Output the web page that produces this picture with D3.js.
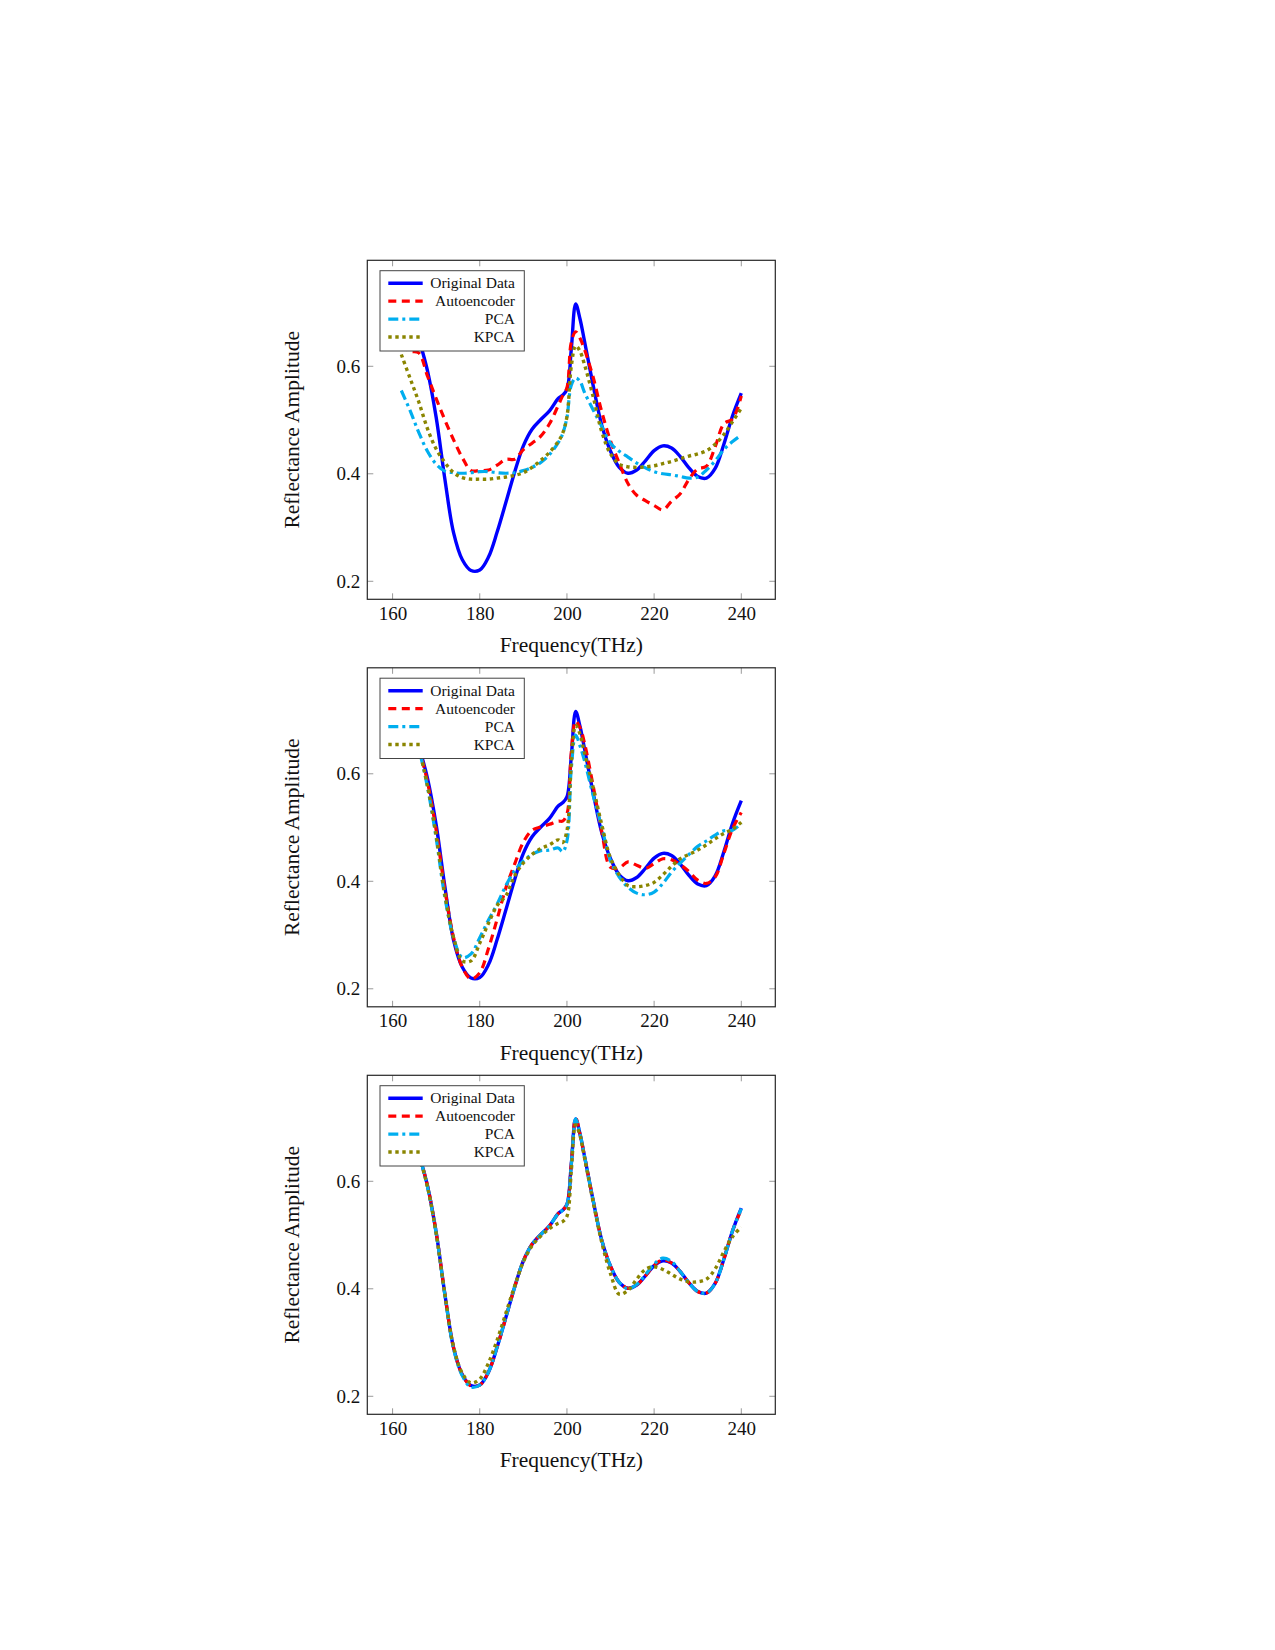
<!DOCTYPE html>
<html>
<head>
<meta charset="utf-8">
<script src="https://cdn.jsdelivr.net/npm/d3@7"></script>
<style>
  html, body { margin: 0; padding: 0; background: #fff; }
  svg { display: block; }
  text { font-family: "Liberation Serif", "Times New Roman", serif; fill: #111; }
</style>
</head>
<body>
<script>
// ---------------- data ----------------
const freq = [162,164,166,168,170,172,174,176,178,180,182,184,186,188,190,192,194,196,198,
              199,200,201,202,203,
              204,206,208,210,212,214,216,218,220,222,224,226,228,230,232,234,236,238,240];

const original = [0.742,0.705,0.652,0.592,0.505,0.390,0.290,0.240,0.220,0.221,0.245,0.292,0.347,0.403,0.452,0.483,0.501,0.517,0.540,
                  0.546,0.557,0.632,0.716,0.688,
                  0.648,0.565,0.490,0.442,0.412,0.401,0.407,0.424,0.443,0.452,0.448,0.432,0.411,0.395,0.392,0.410,0.455,0.508,0.550];

// panel 1
const ae1 = [0.640,0.628,0.625,0.582,0.540,0.500,0.463,0.430,0.406,0.406,0.407,0.416,0.427,0.427,0.445,0.457,0.470,0.493,0.527,
             0.545,0.560,0.645,0.664,0.652,
             0.632,0.580,0.515,0.461,0.420,0.382,0.360,0.350,0.341,0.333,0.349,0.363,0.390,0.409,0.414,0.450,0.493,0.502,0.545];
const pca1 = [0.555,0.518,0.477,0.442,0.418,0.405,0.402,0.401,0.402,0.404,0.404,0.402,0.401,0.402,0.406,0.412,0.421,0.436,0.458,
              0.474,0.505,0.565,0.578,0.572,
              0.552,0.519,0.488,0.457,0.442,0.431,0.420,0.411,0.404,0.400,0.398,0.395,0.392,0.394,0.407,0.424,0.445,0.460,0.472];
const kpca1 = [0.622,0.578,0.534,0.484,0.446,0.421,0.402,0.393,0.390,0.390,0.390,0.392,0.394,0.397,0.402,0.412,0.425,0.440,0.460,
               0.475,0.506,0.600,0.638,0.628,
               0.604,0.544,0.478,0.437,0.418,0.413,0.412,0.413,0.415,0.419,0.423,0.428,0.433,0.437,0.443,0.455,0.473,0.497,0.522];

// panel 2
const ae2 = [0.745,0.705,0.650,0.585,0.495,0.385,0.295,0.240,0.218,0.230,0.275,0.330,0.388,0.432,0.473,0.495,0.501,0.506,0.512,
             0.512,0.525,0.640,0.698,0.686,
             0.658,0.578,0.492,0.426,0.425,0.436,0.430,0.424,0.433,0.442,0.440,0.431,0.418,0.402,0.396,0.408,0.452,0.498,0.528];
const pca2 = [0.745,0.705,0.648,0.575,0.480,0.370,0.295,0.258,0.265,0.295,0.328,0.358,0.392,0.420,0.438,0.450,0.457,0.458,0.462,
              0.455,0.475,0.610,0.672,0.652,
              0.625,0.560,0.500,0.438,0.408,0.389,0.378,0.375,0.380,0.396,0.417,0.434,0.450,0.465,0.475,0.486,0.494,0.495,0.508];
const kpca2 = [0.745,0.705,0.648,0.578,0.485,0.375,0.295,0.252,0.252,0.285,0.322,0.355,0.373,0.410,0.434,0.450,0.461,0.468,0.477,
               0.472,0.494,0.620,0.690,0.674,
               0.640,0.575,0.505,0.443,0.412,0.392,0.390,0.392,0.398,0.412,0.428,0.442,0.450,0.458,0.468,0.479,0.489,0.497,0.510];

// panel 3
const ae3 = [0.742,0.705,0.652,0.592,0.505,0.390,0.290,0.240,0.219,0.221,0.245,0.292,0.347,0.403,0.452,0.483,0.501,0.517,0.540,
             0.546,0.557,0.632,0.718,0.688,
             0.648,0.565,0.490,0.442,0.412,0.401,0.407,0.424,0.443,0.454,0.448,0.432,0.411,0.395,0.392,0.410,0.455,0.508,0.548];
const pca3 = [0.742,0.705,0.652,0.590,0.503,0.388,0.288,0.238,0.217,0.221,0.245,0.292,0.347,0.403,0.452,0.483,0.501,0.517,0.540,
              0.546,0.557,0.632,0.716,0.688,
              0.648,0.565,0.490,0.442,0.412,0.400,0.408,0.426,0.446,0.457,0.451,0.432,0.411,0.395,0.392,0.410,0.455,0.508,0.549];
const kpca3 = [0.745,0.705,0.650,0.590,0.503,0.390,0.292,0.243,0.225,0.232,0.262,0.305,0.355,0.405,0.450,0.480,0.498,0.512,0.522,
               0.525,0.535,0.620,0.705,0.685,
               0.645,0.562,0.486,0.428,0.390,0.397,0.418,0.436,0.441,0.436,0.427,0.418,0.413,0.413,0.418,0.437,0.469,0.497,0.515];

const seriesNames = ["Original Data", "Autoencoder", "PCA", "KPCA"];
const panels = [
  [original, ae1, pca1, kpca1],
  [original, ae2, pca2, kpca2],
  [original, ae3, pca3, kpca3]
];
const xTicks = [160, 180, 200, 220, 240];
const yTicks = [0.2, 0.4, 0.6];
const xLabel = "Frequency(THz)";
const yLabel = "Reflectance Amplitude";

// ---------------- styles ----------------
const styles = [
  { color: "#0000ff", width: 3.4, dash: null },
  { color: "#ff0000", width: 3.2, dash: "8,5.5" },
  { color: "#00aeef", width: 3.2, dash: "10,4,3,4" },
  { color: "#8a8500", width: 3.4, dash: "3.4,3.6" }
];

// ---------------- layout ----------------
const W = 1275, H = 1650;
const left = 367.3, width = 408, height = 339;
const top0 = 260.3, panelStep = 407.5;

const svg = d3.select("body").append("svg").attr("width", W).attr("height", H);

const x = d3.scaleLinear().domain([154.2, 247.8]).range([left, left + width]);

panels.forEach((series, pi) => {
  const top = top0 + pi * panelStep;
  const y = d3.scaleLinear().domain([0.1665, 0.7972]).range([top + height, top]);
  const g = svg.append("g");

  const clipId = "clip" + pi;
  g.append("clipPath").attr("id", clipId)
    .append("rect").attr("x", left).attr("y", top).attr("width", width).attr("height", height);

  // tick marks (inside, all four sides)
  const tickLen = 6;
  const tg = g.append("g").attr("stroke", "#9a9a9a").attr("stroke-width", 1);
  xTicks.forEach(t => {
    tg.append("line").attr("x1", x(t)).attr("x2", x(t)).attr("y1", top + height).attr("y2", top + height - tickLen);
    tg.append("line").attr("x1", x(t)).attr("x2", x(t)).attr("y1", top).attr("y2", top + tickLen);
  });
  yTicks.forEach(t => {
    tg.append("line").attr("x1", left).attr("x2", left + tickLen).attr("y1", y(t)).attr("y2", y(t));
    tg.append("line").attr("x1", left + width).attr("x2", left + width - tickLen).attr("y1", y(t)).attr("y2", y(t));
  });

  // tick labels via d3 axes (domain/tick lines hidden)
  const xAxis = d3.axisBottom(x).tickValues(xTicks).tickSize(0).tickPadding(0).tickFormat(d3.format("d"));
  const xa = g.append("g").attr("transform", `translate(0,${top + height + 7})`).call(xAxis);
  xa.select(".domain").remove();
  xa.selectAll("text").attr("font-size", 19).attr("font-family", "Liberation Serif").attr("fill", "#111")
    .attr("dy", "0.71em");

  const yAxis = d3.axisLeft(y).tickValues(yTicks).tickSize(0).tickPadding(0).tickFormat(d3.format(".1f"));
  const ya = g.append("g").attr("transform", `translate(${left - 7},0)`).call(yAxis);
  ya.select(".domain").remove();
  ya.selectAll("text").attr("font-size", 19).attr("font-family", "Liberation Serif").attr("fill", "#111");

  // lines
  const line = d3.line()
    .x((d, i) => x(freq[i]))
    .y(d => y(d))
    .curve(d3.curveCatmullRom.alpha(0.5));
  const lg = g.append("g").attr("clip-path", `url(#${clipId})`);
  series.forEach((vals, si) => {
    const s = styles[si];
    lg.append("path").datum(vals)
      .attr("d", line)
      .attr("fill", "none")
      .attr("stroke", s.color)
      .attr("stroke-width", s.width)
      .attr("stroke-linejoin", "round")
      .attr("stroke-dasharray", s.dash);
  });

  // frame
  g.append("rect").attr("x", left).attr("y", top).attr("width", width).attr("height", height)
    .attr("fill", "none").attr("stroke", "#262626").attr("stroke-width", 1.2);

  // legend
  const lx = left + 12.7, ly = top + 10.4, lw = 144.3, lh = 80.3;
  const leg = g.append("g");
  leg.append("rect").attr("x", lx).attr("y", ly).attr("width", lw).attr("height", lh)
    .attr("fill", "#fff").attr("stroke", "#444").attr("stroke-width", 1);
  seriesNames.forEach((name, k) => {
    const s = styles[k];
    const cy = top + 23 + k * 17.9;
    leg.append("line").attr("x1", left + 21).attr("x2", left + 55.4).attr("y1", cy).attr("y2", cy)
      .attr("stroke", s.color).attr("stroke-width", s.width).attr("stroke-dasharray", s.dash);
    leg.append("text").attr("x", left + 147.7).attr("y", cy).attr("dy", "0.33em")
      .attr("text-anchor", "end").attr("font-size", 15.5).text(name);
  });

  // axis labels
  g.append("text").attr("x", left + width / 2).attr("y", top + height + 52.7)
    .attr("text-anchor", "middle").attr("font-size", 21.5).text(xLabel);
  g.append("text").attr("transform", `translate(299,${top + height / 2}) rotate(-90)`)
    .attr("text-anchor", "middle").attr("font-size", 21.5).text(yLabel);
});
</script>
</body>
</html>
